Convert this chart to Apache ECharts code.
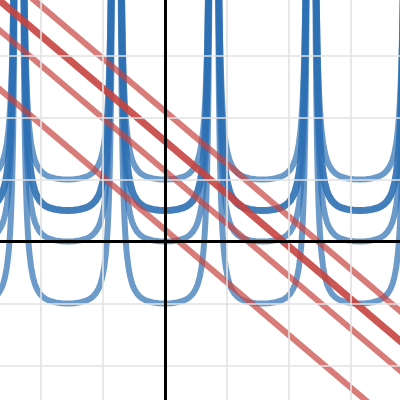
<!DOCTYPE html>
<html lang="en">
<head>
<meta charset="UTF-8">
<title>Document</title>
<script src="https://cdn.jsdelivr.net/npm/echarts@6.0.0/dist/echarts.min.js"></script>
<style>
    html, body { margin: 0; padding: 0; background: #fff; }
    #main { width: 400px; height: 400px; }
</style>
</head>
<body>
<div id="main"></div>
<script type="text/javascript">
    // visible window (graph units)
    var xRange = [-2.661, 3.790];
    var yRange = [-2.556, 3.895];

    // grid lines
    var gridX = [-2, -1, 1, 2, 3];
    var gridY = [-2, -1, 1, 2, 3];

    // U shaped curves: centres between asymptotes, minimum of each curve
    var uCenters = [-3.14, -1.57, 0, 1.57, 3.14];
    var uMinima = [1, 0.5, 0, -1];
    var uDark = [false, true, false, false];
    // half profile of one U (distance from centre, rise above minimum)
    var profDx = [0, 0.10, 0.20, 0.30, 0.35, 0.40, 0.45, 0.50, 0.53, 0.56, 0.59, 0.61, 0.62, 0.63, 0.64, 0.65, 0.66, 0.67, 0.68, 0.69, 0.70, 0.71, 0.72, 0.73];
    var profRise = [0, 0.004, 0.018, 0.047, 0.071, 0.106, 0.159, 0.243, 0.318, 0.427, 0.589, 0.747, 0.848, 0.969, 1.116, 1.297, 1.523, 1.81, 2.185, 2.68, 3.36, 4.33, 5.78, 8.08];

    // straight red lines: y at x = -3 and at x = 4
    var lineStartY = [4.65, 4.17, 3.69, 2.74];
    var lineEndY = [-1.30, -1.78, -2.26, -3.21];
    var lineDark = [false, true, false, false];

    var blue = '45,112,179';
    var red = '199,68,64';

    var series = [];

    function markSeries(xs, ys, color, width, z) {
        var lines = [];
        for (var i = 0; i < xs.length; i++) lines.push({xAxis: xs[i]});
        for (var j = 0; j < ys.length; j++) lines.push({yAxis: ys[j]});
        return {
            type: 'line',
            data: [],
            z: z,
            silent: true,
            markLine: {
                silent: true,
                symbol: ['none', 'none'],
                label: {show: false},
                animation: false,
                lineStyle: {color: color, width: width, type: 'solid'},
                emphasis: {disabled: true},
                data: lines
            }
        };
    }

    series.push(markSeries(gridX, gridY, '#e2e2e2', 1.6, 0));
    series.push(markSeries([0], [0], '#000', 3, 1));

    for (var k = 0; k < uMinima.length; k++) {
        for (var c = 0; c < uCenters.length; c++) {
            var pts = [];
            for (var i = profDx.length - 1; i > 0; i--) {
                pts.push([uCenters[c] - profDx[i], uMinima[k] + profRise[i]]);
            }
            for (var i = 0; i < profDx.length; i++) {
                pts.push([uCenters[c] + profDx[i], uMinima[k] + profRise[i]]);
            }
            series.push({
                type: 'line',
                data: pts,
                z: 3,
                showSymbol: false,
                silent: true,
                lineStyle: {
                    color: 'rgba(' + blue + ',' + (uDark[k] ? 0.9 : 0.7) + ')',
                    width: uDark[k] ? 7 : 6,
                    cap: 'round',
                    join: 'round'
                }
            });
        }
    }

    for (var r = 0; r < lineStartY.length; r++) {
        series.push({
            type: 'line',
            data: [[-3, lineStartY[r]], [4, lineEndY[r]]],
            z: 4,
            showSymbol: false,
            silent: true,
            lineStyle: {
                color: 'rgba(' + red + ',' + (lineDark[r] ? 0.9 : 0.7) + ')',
                width: lineDark[r] ? 7 : 6
            }
        });
    }

    var myChart = echarts.init(document.getElementById('main'));
    var option = {
        animation: false,
        grid: {left: 0, right: 0, top: 0, bottom: 0, containLabel: false},
        xAxis: {
            type: 'value',
            min: xRange[0],
            max: xRange[1],
            axisLine: {show: false},
            axisTick: {show: false},
            axisLabel: {show: false},
            splitLine: {show: false}
        },
        yAxis: {
            type: 'value',
            min: yRange[0],
            max: yRange[1],
            axisLine: {show: false},
            axisTick: {show: false},
            axisLabel: {show: false},
            splitLine: {show: false}
        },
        series: series
    };
    myChart.setOption(option);
</script>
</body>
</html>
